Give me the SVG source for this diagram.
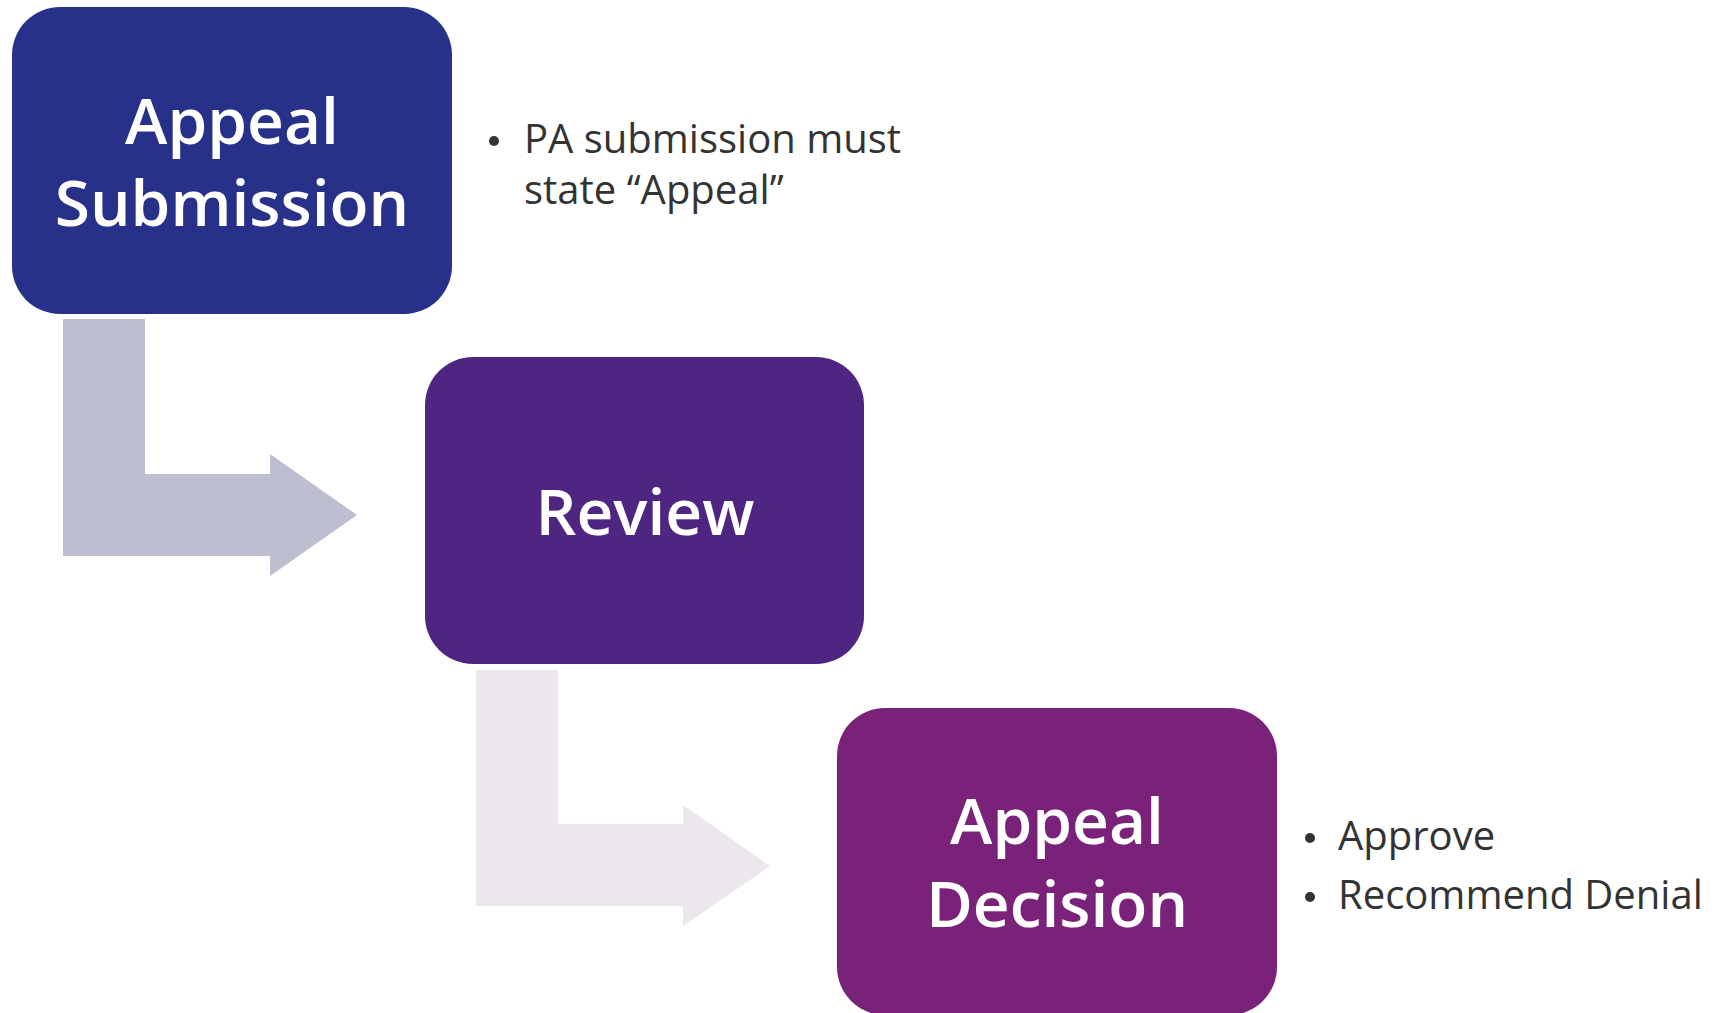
<svg xmlns="http://www.w3.org/2000/svg" width="1715" height="1013" viewBox="0 0 1715 1013">
<style>
.node-label{font-family:"Open Sans","Liberation Sans",sans-serif;font-weight:600;font-size:64px;fill:#ffffff;text-anchor:middle}
.bullet{font-family:"Open Sans","Liberation Sans",sans-serif;font-size:40px;fill:#333333}
.dot{fill:#333333}
</style>
<rect width="1715" height="1013" fill="#ffffff"/>
<g id="connectors">
<polygon id="arrow1" fill="#BDBFD1" points="63,319 145,319 145,474 270,474 270,454 357,515 270,576 270,556 63,556"/>
<polygon id="arrow2" fill="#ECE7EC" points="476,670 558,670 558,824 683,824 683,805 770,866 683,926 683,906 476,906"/>
</g>
<g id="node-appeal-submission">
<rect x="12" y="7" width="440" height="307" rx="48" fill="#283189"/>
<text class="node-label" x="232" y="144">Appeal</text>
<text class="node-label" x="232" y="226">Submission</text>
</g>
<g id="note-submission">
<circle class="dot" cx="494" cy="141" r="5"/>
<text class="bullet" x="524" y="153">PA submission must</text>
<text class="bullet" x="524" y="204">state “Appeal”</text>
</g>
<g id="node-review">
<rect x="425" y="357" width="439" height="307" rx="48" fill="#4F2582"/>
<text class="node-label" x="645" y="535">Review</text>
</g>
<g id="node-appeal-decision">
<rect x="837" y="708" width="440" height="307" rx="48" fill="#7A2179"/>
<text class="node-label" x="1057" y="844">Appeal</text>
<text class="node-label" x="1057" y="927">Decision</text>
</g>
<g id="note-decision">
<circle class="dot" cx="1310" cy="838" r="5"/>
<text class="bullet" x="1338" y="850">Approve</text>
<circle class="dot" cx="1310" cy="897" r="5"/>
<text class="bullet" x="1338" y="909">Recommend Denial</text>
</g>
</svg>
